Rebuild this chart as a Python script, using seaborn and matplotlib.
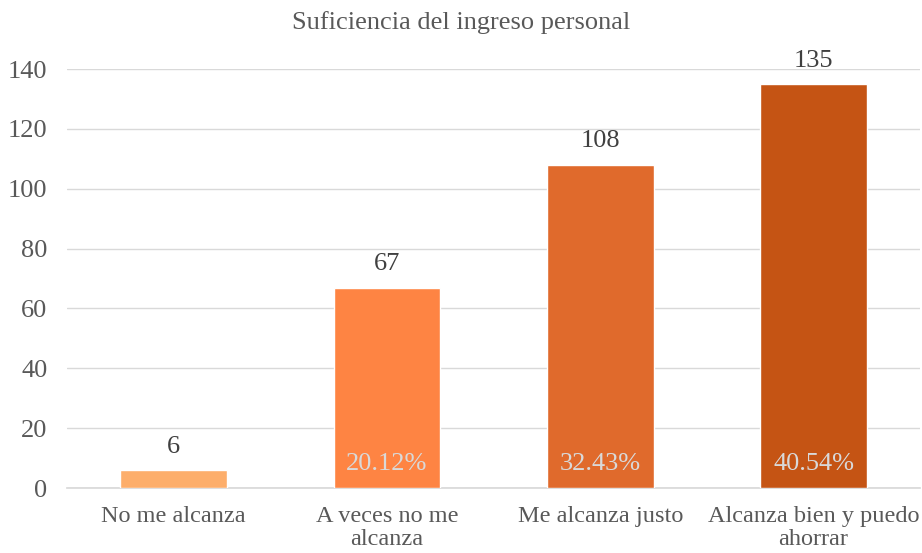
import pandas as pd
import matplotlib.pyplot as plt
import seaborn as sns

categories = ["No me alcanza", "A veces no me\nalcanza", "Me alcanza justo", "Alcanza bien y puedo\nahorrar"]
counts = [6, 67, 108, 135]
pct_labels = ["", "20.12%", "32.43%", "40.54%"]
colors = ["#FDAE6B", "#FE8443", "#E06A2C", "#C55414"]

df = pd.DataFrame({"cat": categories, "n": counts})

sns.set_theme(style="white")
plt.rcParams["font.family"] = ["Liberation Serif", "DejaVu Serif"]

fig = plt.figure(figsize=(9.22, 5.53), dpi=100)
ax = fig.add_axes([0.0727, 0.1175, 0.9253, 0.7575])

sns.barplot(data=df, x="cat", y="n", hue="cat", palette=colors, legend=False,
            width=0.5, saturation=1, ax=ax, zorder=3)

ax.set_ylim(0, 140)
ax.set_xlim(-0.5, 3.5)
ax.set_yticks(range(0, 141, 20))
ax.grid(axis="y", color="#D9D9D9", lw=1, zorder=0)
for s in ["top", "right", "left"]:
    ax.spines[s].set_visible(False)
ax.spines["bottom"].set_color("#D9D9D9")
ax.tick_params(axis="both", length=0, labelsize=19, colors="#595959")
ax.tick_params(axis="y", pad=14)
ax.tick_params(axis="x", pad=13, labelsize=17.5)
for lbl in ax.get_xticklabels():
    lbl.set_linespacing(1.1)
ax.set_xlabel("")
ax.set_ylabel("")

for i, (v, p) in enumerate(zip(counts, pct_labels)):
    ax.annotate(str(v), (i, v), xytext=(0, 9), textcoords="offset points",
                ha="center", va="bottom", fontsize=19, color="#404040")
    if p:
        ax.annotate(p, (i, 0), xytext=(0, 17), textcoords="offset points",
                    ha="center", va="center", fontsize=19, color="#D9D9D9", zorder=5)

fig.text(0.5, 0.96, "Suficiencia del ingreso personal", ha="center", va="center",
         fontsize=19, color="#595959")

fig.savefig("out.png", dpi=100)
